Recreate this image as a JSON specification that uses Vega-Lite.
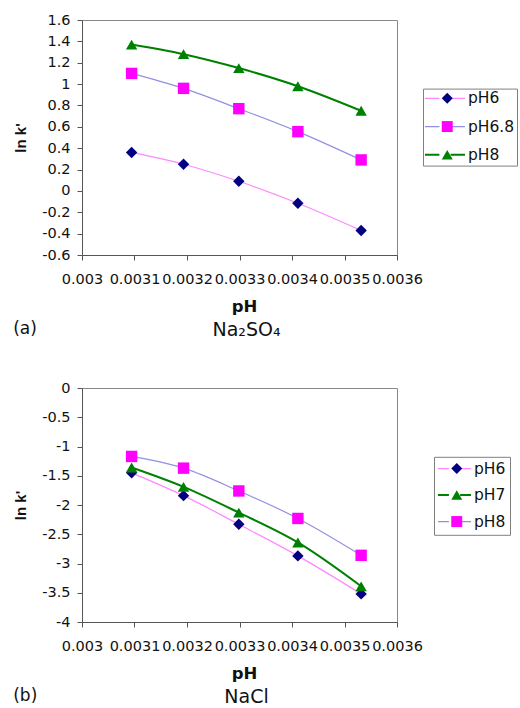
{
  "$schema": "https://vega.github.io/schema/vega-lite/v6.json",
  "background": "white",
  "padding": {"left": 13, "top": 11, "right": 0, "bottom": 0},
  "spacing": 38,
  "config": {
    "locale": {"number": {"decimal": ".", "thousands": ",", "grouping": [3], "currency": ["$", ""], "minus": "-"}},
    "view": {"stroke": "#888888", "strokeWidth": 1},
    "axis": {
      "grid": false,
      "domainColor": "#555555",
      "tickColor": "#555555",
      "tickSize": 5,
      "labelFont": "DejaVu Sans",
      "labelFontSize": 14.5,
      "labelColor": "#111111",
      "labelFlush": false,
      "labelOverlap": false,
      "titleColor": "#111111"
    },
    "axisX": {"labelPadding": 12, "titleFont": "DejaVu Sans", "titleFontSize": 16.5, "titleFontWeight": "bold", "titlePadding": 13, "titleX": 162},
    "axisY": {"labelPadding": 7, "titleFont": "Liberation Sans", "titleFontSize": 15, "titleFontWeight": "bold", "titlePadding": 13},
    "title": {"font": "DejaVu Sans", "fontSize": 17, "fontWeight": "normal", "color": "#111111"},
    "legend": {"labelFont": "DejaVu Sans", "labelFontSize": 15.5, "labelColor": "#111111", "title": null}
  },
  "resolve": {
    "scale": {"color": "independent", "shape": "independent", "stroke": "independent", "strokeWidth": "independent"},
    "legend": {"color": "independent", "shape": "independent", "stroke": "independent", "strokeWidth": "independent"}
  },
  "vconcat": [
    {
      "title": {"text": "(a)", "orient": "bottom", "anchor": "start", "frame": "bounds", "offset": -20},
      "resolve": {
        "scale": {"color": "independent", "shape": "independent", "stroke": "independent", "strokeWidth": "independent"},
        "legend": {"color": "independent", "shape": "independent", "stroke": "independent", "strokeWidth": "independent"}
      },
      "vconcat": [
        {
          "width": 315,
          "height": 235,
          "title": {"text": "Na₂SO₄", "orient": "bottom", "anchor": "middle", "offset": 6, "dx": 7, "fontSize": 19},
          "data": {
            "values": [
              {"invT": 0.0030945, "lnk": 0.36, "series": "pH6"},
              {"invT": 0.0031934, "lnk": 0.25, "series": "pH6"},
              {"invT": 0.0032987, "lnk": 0.09, "series": "pH6"},
              {"invT": 0.0034112, "lnk": -0.115, "series": "pH6"},
              {"invT": 0.0035317, "lnk": -0.37, "series": "pH6"},
              {"invT": 0.0030945, "lnk": 1.10, "series": "pH6.8"},
              {"invT": 0.0031934, "lnk": 0.96, "series": "pH6.8"},
              {"invT": 0.0032987, "lnk": 0.77, "series": "pH6.8"},
              {"invT": 0.0034112, "lnk": 0.555, "series": "pH6.8"},
              {"invT": 0.0035317, "lnk": 0.29, "series": "pH6.8"},
              {"invT": 0.0030945, "lnk": 1.37, "series": "pH8"},
              {"invT": 0.0031934, "lnk": 1.28, "series": "pH8"},
              {"invT": 0.0032987, "lnk": 1.15, "series": "pH8"},
              {"invT": 0.0034112, "lnk": 0.98, "series": "pH8"},
              {"invT": 0.0035317, "lnk": 0.75, "series": "pH8"}
            ]
          },
          "encoding": {
            "x": {
              "field": "invT", "type": "quantitative", "title": "pH",
              "scale": {"domain": [0.003, 0.0036], "zero": false, "nice": false},
              "axis": {"values": [0.003, 0.0031, 0.0032, 0.0033, 0.0034, 0.0035, 0.0036], "format": "~g"}
            },
            "y": {
              "field": "lnk", "type": "quantitative", "title": "ln k'",
              "scale": {"domain": [-0.6, 1.6], "zero": false, "nice": false},
              "axis": {"values": [-0.6, -0.4, -0.2, 0, 0.2, 0.4, 0.6, 0.8, 1, 1.2, 1.4, 1.6], "format": "~g"}
            }
          },
          "layer": [
            {
              "mark": {"type": "line", "interpolate": "monotone"},
              "encoding": {
                "stroke": {
                  "field": "series", "type": "nominal",
                  "scale": {"domain": ["pH6", "pH6.8", "pH8"], "range": ["#ff88ff", "#9090e0", "#008000"]},
                  "legend": {"orient": "none", "legendX": 341, "legendY": 68.6, "symbolType": "M-3.08,0H-0.86M0.86,0H3.08", "symbolSize": 169, "symbolOffset": 12.25, "labelOffset": 15.25, "strokeColor": "#808080", "padding": 2, "rowPadding": 11.2}
                },
                "strokeWidth": {
                  "field": "series", "type": "nominal",
                  "scale": {"type": "ordinal", "domain": ["pH6", "pH6.8", "pH8"], "range": [1.2, 1.2, 2]},
                  "legend": {"orient": "none", "legendX": 341, "legendY": 68.6, "symbolType": "M-3.08,0H-0.86M0.86,0H3.08", "symbolSize": 169, "symbolOffset": 12.25, "labelOffset": 15.25, "strokeColor": "#808080", "padding": 2, "rowPadding": 11.2}
                }
              }
            },
            {
              "mark": {"type": "point", "filled": true, "opacity": 1, "size": 130},
              "encoding": {
                "color": {
                  "field": "series", "type": "nominal",
                  "scale": {"range": ["#000080", "#ff00ff", "#008000"]},
                  "legend": {"orient": "none", "legendX": 355.5, "legendY": 68.6, "symbolSize": 120, "labelExpr": "''", "padding": 2, "rowPadding": 11.2}
                },
                "shape": {
                  "field": "series", "type": "nominal",
                  "scale": {"range": ["diamond", "square", "triangle-up"]},
                  "legend": {"orient": "none", "legendX": 355.5, "legendY": 68.6, "symbolSize": 120, "labelExpr": "''", "padding": 2, "rowPadding": 11.2}
                }
              }
            }
          ]
        }
      ]
    },
    {
      "title": {"text": "(b)", "orient": "bottom", "anchor": "start", "frame": "bounds", "offset": -20},
      "resolve": {
        "scale": {"color": "independent", "shape": "independent", "stroke": "independent", "strokeWidth": "independent"},
        "legend": {"color": "independent", "shape": "independent", "stroke": "independent", "strokeWidth": "independent"}
      },
      "vconcat": [
        {
          "width": 315,
          "height": 234,
          "title": {"text": "NaCl", "orient": "bottom", "anchor": "middle", "offset": 6, "dx": 7, "fontSize": 19},
          "data": {
            "values": [
              {"invT": 0.0030945, "lnk": -1.45, "series": "pH6"},
              {"invT": 0.0031934, "lnk": -1.84, "series": "pH6"},
              {"invT": 0.0032987, "lnk": -2.33, "series": "pH6"},
              {"invT": 0.0034112, "lnk": -2.87, "series": "pH6"},
              {"invT": 0.0035317, "lnk": -3.52, "series": "pH6"},
              {"invT": 0.0030945, "lnk": -1.36, "series": "pH7"},
              {"invT": 0.0031934, "lnk": -1.69, "series": "pH7"},
              {"invT": 0.0032987, "lnk": -2.13, "series": "pH7"},
              {"invT": 0.0034112, "lnk": -2.64, "series": "pH7"},
              {"invT": 0.0035317, "lnk": -3.39, "series": "pH7"},
              {"invT": 0.0030945, "lnk": -1.17, "series": "pH8"},
              {"invT": 0.0031934, "lnk": -1.37, "series": "pH8"},
              {"invT": 0.0032987, "lnk": -1.76, "series": "pH8"},
              {"invT": 0.0034112, "lnk": -2.23, "series": "pH8"},
              {"invT": 0.0035317, "lnk": -2.86, "series": "pH8"}
            ]
          },
          "encoding": {
            "x": {
              "field": "invT", "type": "quantitative", "title": "pH",
              "scale": {"domain": [0.003, 0.0036], "zero": false, "nice": false},
              "axis": {"values": [0.003, 0.0031, 0.0032, 0.0033, 0.0034, 0.0035, 0.0036], "format": "~g"}
            },
            "y": {
              "field": "lnk", "type": "quantitative", "title": "ln k'",
              "scale": {"domain": [-4, 0], "zero": false, "nice": false},
              "axis": {"values": [-4, -3.5, -3, -2.5, -2, -1.5, -1, -0.5, 0], "format": "~g"}
            }
          },
          "layer": [
            {
              "mark": {"type": "line", "interpolate": "monotone"},
              "encoding": {
                "stroke": {
                  "field": "series", "type": "nominal",
                  "scale": {"domain": ["pH6", "pH7", "pH8"], "range": ["#ff88ff", "#008000", "#9090e0"]},
                  "legend": {"orient": "none", "legendX": 352, "legendY": 68.8, "symbolType": "M-2.54,0H-0.86M0.86,0H2.54", "symbolSize": 169, "symbolOffset": 8.75, "labelOffset": 11.75, "strokeColor": "#808080", "padding": 4, "rowPadding": 9.5}
                },
                "strokeWidth": {
                  "field": "series", "type": "nominal",
                  "scale": {"type": "ordinal", "domain": ["pH6", "pH7", "pH8"], "range": [1.2, 2, 1.2]},
                  "legend": {"orient": "none", "legendX": 352, "legendY": 68.8, "symbolType": "M-2.54,0H-0.86M0.86,0H2.54", "symbolSize": 169, "symbolOffset": 8.75, "labelOffset": 11.75, "strokeColor": "#808080", "padding": 4, "rowPadding": 9.5}
                }
              }
            },
            {
              "mark": {"type": "point", "filled": true, "opacity": 1, "size": 130},
              "encoding": {
                "color": {
                  "field": "series", "type": "nominal",
                  "scale": {"range": ["#000080", "#008000", "#ff00ff"]},
                  "legend": {"orient": "none", "legendX": 363, "legendY": 68.8, "symbolSize": 120, "labelExpr": "''", "padding": 4, "rowPadding": 9.5}
                },
                "shape": {
                  "field": "series", "type": "nominal",
                  "scale": {"range": ["diamond", "triangle-up", "square"]},
                  "legend": {"orient": "none", "legendX": 363, "legendY": 68.8, "symbolSize": 120, "labelExpr": "''", "padding": 4, "rowPadding": 9.5}
                }
              }
            }
          ]
        }
      ]
    }
  ]
}
